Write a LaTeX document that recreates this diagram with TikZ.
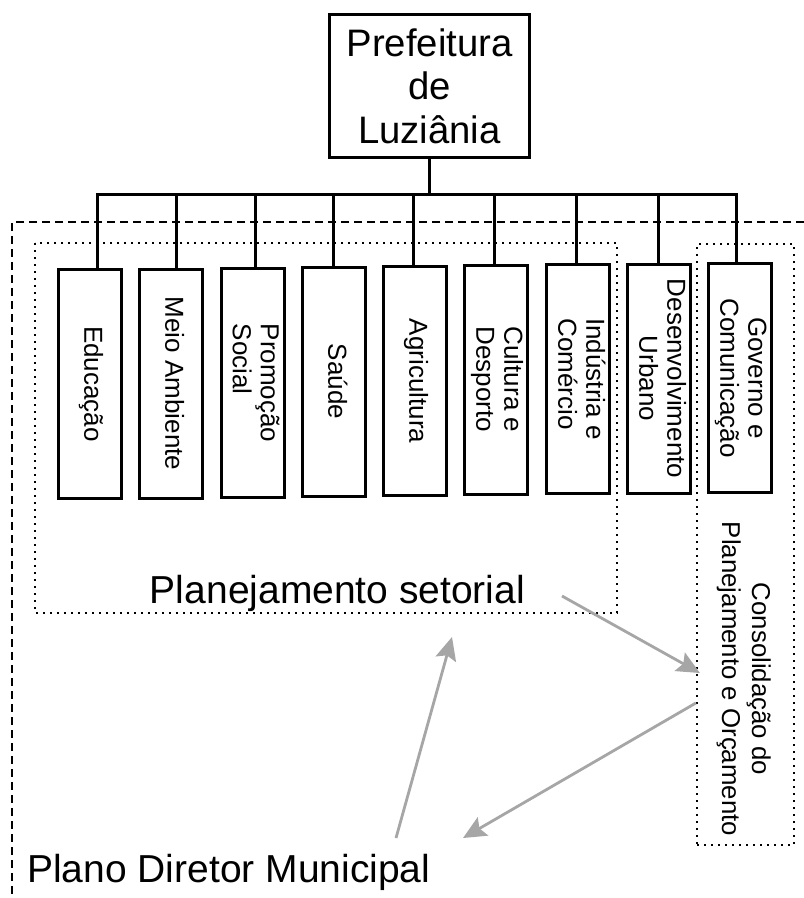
\documentclass[tikz,border=0pt]{standalone}
\usepackage{fontspec}
\setmainfont{Liberation Sans}
\usetikzlibrary{arrows.meta}
\definecolor{arrowgray}{RGB}{166,166,166}
\newcommand{\vlab}[2][l]{\rotatebox{-90}{\begin{tabular}{@{}#1@{}}#2\end{tabular}}}
\begin{document}
\begin{tikzpicture}[x=1pt,y=-1pt,
  boxline/.style={line width=3pt, line join=miter, black},
  topbox/.style={draw, boxline, minimum width=200pt, minimum height=143pt, inner sep=0pt, align=center, font=\fontsize{38.3}{43.5}\selectfont},
  vbox/.style={draw, boxline, minimum width=63pt, minimum height=229pt, inner sep=0pt, font=\fontsize{26}{28}\selectfont},
  dashline/.style={line width=2pt, dash pattern=on 8pt off 5pt, black},
  dotline/.style={line width=2.2pt, dash pattern=on 2.2pt off 4.8pt, black},
  biglabel/.style={inner sep=0pt, font=\fontsize{39}{44}\selectfont},
  sidelabel/.style={inner sep=0pt, font=\fontsize{25.8}{30}\selectfont},
  garrow/.style={draw=arrowgray, line width=2.8pt, -{Stealth[length=23pt,width=21pt,inset=4pt]}}
]
\useasboundingbox (0,0) rectangle (804,898);
\fill[white] (0,0) rectangle (804,898);

% top box
\node[topbox] (top) at (429.5,86) {Prefeitura\\de\\Luzi\^ania};
\coordinate (bus) at (429.5,194);

% department boxes
\foreach \n/\x/\y/\dx/\t in {
  1/90/384/7/{\vlab{Educação}},
  2/171/383.5/5/{\vlab{Meio Ambiente}},
  3/252.5/383/2.5/{\vlab{Promoção\\Social}},
  4/334/381.5/-1/{\vlab{Saúde}},
  5/415/381/-2/{\vlab{Agricultura}},
  6/496/379.5/-2/{\vlab{Cultura e\\Desporto}},
  7/578/379/-2/{\vlab{Indústria e\\Comércio}},
  8/659/378.5/-1/{\vlab[c]{Desenvolvimento\\Urbano}},
  9/740/378/-4/{\vlab[c]{Governo e\\Comunicação}}}{
  \node[vbox] (b\n) at (\x,\y) {\t};
  \coordinate (d\n) at ([xshift=\dx pt]b\n.north);
}

% connectors
\draw[boxline] (top.south) -- (top.south |- bus);
\draw[boxline] (d1) -- (d1 |- bus) -- (d9 |- bus) -- (d9);
\foreach \n in {2,...,8}{
  \draw[boxline] (d\n |- bus) -- (d\n);
}

% dashed frame
\draw[dashline] (804,222) -- (12,222) -- (12,898);

% dotted frame of sector planning
\draw[dotline] (35,243) rectangle (617,613);
\node[biglabel, anchor=base] (setor) at (337.5,603) {Planejamento setorial};

% dotted consolidation box
\node[draw, dotline, minimum width=97pt, minimum height=601pt, inner sep=0pt] (cons) at (745.5,544.5) {};
\node[sidelabel] (conslab) at (743,679) {\rotatebox{-90}{\begin{tabular}{@{}c@{}}Consolidação do\\Planejamento e Orçamento\end{tabular}}};

% plano diretor
\node[biglabel, anchor=base west] (plano) at (27,882) {Plano Diretor Municipal};

% arrows
\coordinate (a1s) at (562,596);
\coordinate (a1e) at ([xshift=4pt]cons.west |- 0,673);
\coordinate (a2s) at (cons.west |- 0,703);
\coordinate (a2e) at (463,838);
\coordinate (a3s) at (396,838);
\coordinate (a3e) at (452,637);
\draw[garrow] (a1s) -- (a1e);
\draw[garrow] (a2s) -- (a2e);
\draw[garrow] (a3s) -- (a3e);
\end{tikzpicture}
\end{document}
